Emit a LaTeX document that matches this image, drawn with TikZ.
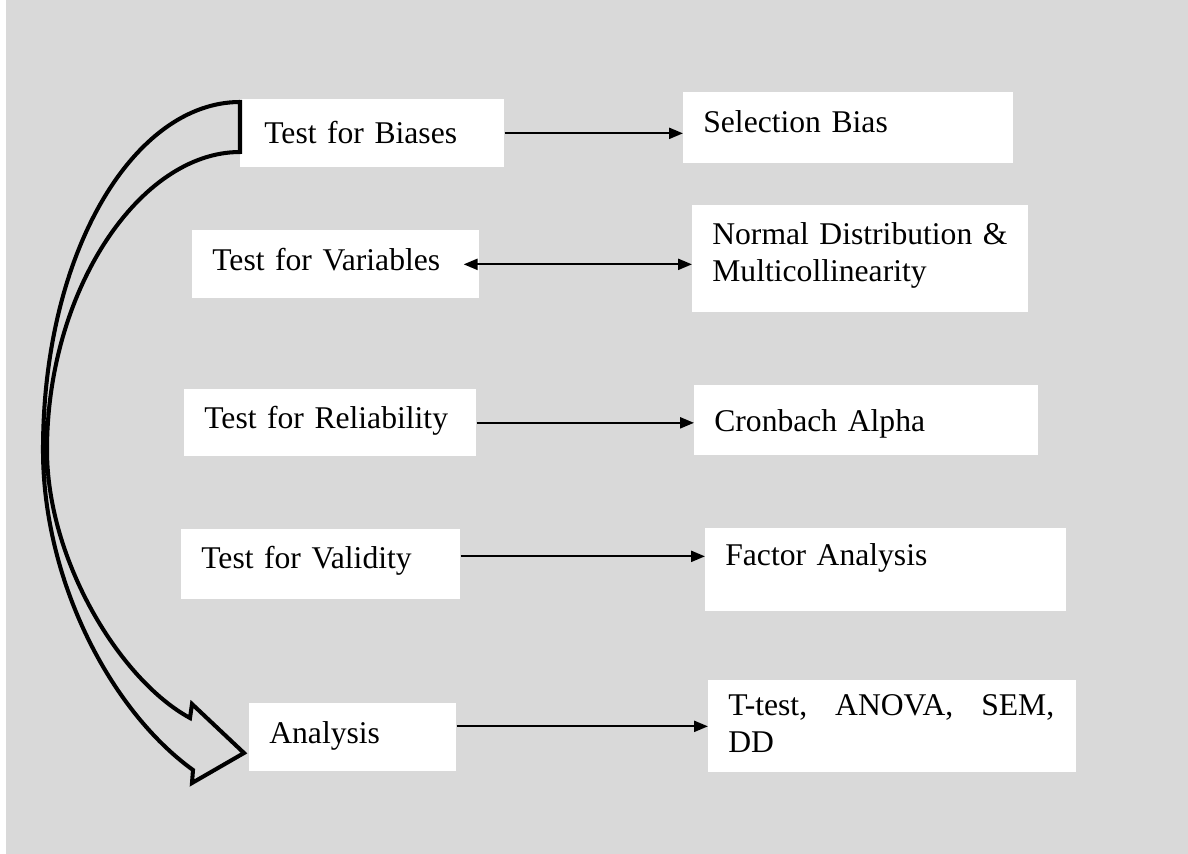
\documentclass[tikz,border=0pt]{standalone}
\usepackage{fontspec}
\setmainfont{Liberation Serif}
\usepackage{tikz}
\usetikzlibrary{arrows.meta}
\tikzset{box/.style = {fill = white, anchor = north west, inner xsep = 0.4cm, inner ysep = 0, align = left, text height = 0.43cm, font = \fontsize{18}{21.5}\selectfont}}
\tikzset{tip/.tip = {Triangle[length = 0.28cm, width = 0.22cm]}}
\tikzset{conn/.style = {line width = 1.3pt, -tip}}
\tikzset{bigarrow/.style = {line width = 2.3pt, line join = miter}}
\definecolor{bggray}{rgb}{0.851, 0.851, 0.851}

\begin{document}
\begin{tikzpicture}[x = 0.02cm, y = -0.02cm]
      \useasboundingbox (0, 0) rectangle (1188, 854);
      \fill [bggray] (6, 0) rectangle (1188, 854);

      \node [box, inner xsep = 0.48cm, text width = 4.32cm, minimum height = 1.36cm, text depth = 0.03cm] (bias) at (240, 99) {Test for Biases};
      \node [box, text width = 5.8cm, minimum height = 1.42cm, text depth = 0.25cm] (selbias) at (683, 92) {Selection Bias};

      \node [box, text width = 4.94cm, minimum height = 1.36cm, text depth = 0.19cm] (vars) at (192, 230) {Test for Variables};
      \node [box, text width = 5.92cm, minimum height = 2.14cm, text depth = 1.02cm] (normal) at (692, 205) {Normal Distribution \&\\Multicollinearity};

      \node [box, text width = 5.04cm, minimum height = 1.34cm, text depth = 0.21cm] (rel) at (184, 389) {Test for Reliability};
      \node [box, text width = 6.08cm, minimum height = 1.4cm, text depth = 0cm] (cron) at (694, 385) {Cronbach Alpha};

      \node [box, text width = 4.78cm, minimum height = 1.4cm, text depth = 0.27cm] (valid) at (181, 529) {Test for Validity};
      \node [box, text width = 6.42cm, minimum height = 1.66cm, text depth = 0.61cm] (factor) at (705, 528) {Factor Analysis};

      \node [box, text width = 3.34cm, minimum height = 1.36cm, text depth = 0.19cm] (analysis) at (249, 703) {Analysis};
      \node [box, text width = 6.56cm, minimum height = 1.84cm, text depth = 0.88cm] (ttest) at (708, 680) {\hbox to 6.52cm{T-test,\hfill ANOVA,\hfill SEM,}\\DD};

      \coordinate (va) at ([yshift = 0.16cm] valid.east);
      \coordinate (an) at ([yshift = 0.22cm] analysis.east);

      \draw [conn] (bias.east) -- (bias.east -| selbias.west);
      \draw [conn, tip-tip] ([xshift = -0.32cm] vars.east) -- (vars.east -| normal.west);
      \draw [conn] (rel.east) -- (rel.east -| cron.west);
      \draw [conn] (va) -- (va -| factor.west);
      \draw [conn] (an) -- (an -| ttest.west);

      \draw [bigarrow] (240, 102) .. controls (135, 102) and (43, 250) .. (43, 450)
        .. controls (43, 580) and (110, 710) .. (193, 770) -- (192, 783) -- (244, 753) -- (192, 704) -- (190, 718)
        .. controls (120, 680) and (47, 560) .. (47, 450)
        .. controls (47, 290) and (140, 152) .. (240, 152) -- cycle;
\end{tikzpicture}
\end{document}
